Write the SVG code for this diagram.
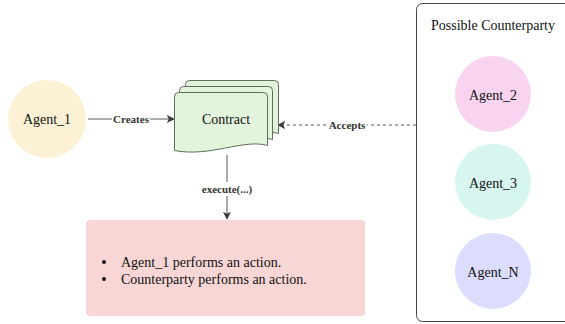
<svg xmlns="http://www.w3.org/2000/svg" width="565" height="324" viewBox="0 0 565 324" font-family="'Liberation Serif', 'Times New Roman', serif">
  <defs>
    <marker id="arrow" viewBox="0 0 10 10" refX="9" refY="5" markerWidth="8" markerHeight="8" markerUnits="userSpaceOnUse" orient="auto">
      <path d="M0,0 L10,5 L0,10 L2.5,5 Z" fill="#3a3a3a"/>
    </marker>
    <path id="doc" d="M0,4 Q0,0 4,0 H89 Q93,0 93,4 V53 C70,46 35,65 0,58 Z"/>
  </defs>
  <style>
    .node-label { font-family: 'Liberation Serif', serif; font-size: 14px; text-anchor: middle; dominant-baseline: central; fill: #111; }
    .edge-label { font-family: 'Liberation Serif', serif; font-size: 11px; font-weight: bold; text-anchor: middle; dominant-baseline: central; fill: #333; }
    .edge { stroke: #5a5a5a; stroke-width: 1; fill: none; }
    .doc { fill: #e2f5dc; stroke: #5d6e5a; stroke-width: 1; }
  </style>

  <!-- Counterparty container -->
  <g id="counterparty-group">
    <rect x="416.5" y="3.5" width="160" height="318" rx="6" fill="#ffffff" stroke="#444" stroke-width="1"/>
    <text x="493" y="25" class="node-label" font-size="13">Possible Counterparty</text>
  </g>

  <!-- Connectors -->
  <g id="connectors">
    <line class="edge" x1="88" y1="119" x2="174" y2="119" marker-end="url(#arrow)"/>
    <rect x="112" y="113" width="38" height="12" fill="#fff"/>
    <text x="131" y="119" class="edge-label">Creates</text>

    <line class="edge" x1="416" y1="125" x2="278" y2="125" stroke-dasharray="3,3" marker-end="url(#arrow)"/>
    <rect x="327" y="119" width="40" height="12" fill="#fff"/>
    <text x="347" y="125" class="edge-label">Accepts</text>

    <line class="edge" x1="227" y1="155" x2="227" y2="219" marker-end="url(#arrow)"/>
    <rect x="199" y="182" width="56" height="14" fill="#fff"/>
    <text x="227" y="189" class="edge-label">execute(...)</text>
  </g>

  <g id="agent-1">
    <circle cx="47" cy="119" r="39" fill="#fcf1d5"/>
    <text x="47" y="119" class="node-label">Agent_1</text>
  </g>

  <g id="contract">
    <use href="#doc" class="doc" transform="translate(185.5,80.5)"/>
    <use href="#doc" class="doc" transform="translate(179.5,86.5)"/>
    <use href="#doc" class="doc" transform="translate(174.5,92.5)"/>
    <text x="226" y="119" class="node-label">Contract</text>
  </g>

  <g id="actions">
    <rect x="86" y="220" width="279" height="96" rx="4" fill="#f8d6d6"/>
    <circle cx="104" cy="262" r="2" fill="#111"/>
    <circle cx="104" cy="279" r="2" fill="#111"/>
    <text x="121" y="262" class="node-label" style="text-anchor:start">Agent_1 performs an action.</text>
    <text x="121" y="279" class="node-label" style="text-anchor:start">Counterparty performs an action.</text>
  </g>

  <g id="agent-2">
    <circle cx="493" cy="94" r="38" fill="#f8d4f1"/>
    <text x="493" y="95" class="node-label">Agent_2</text>
  </g>
  <g id="agent-3">
    <circle cx="493" cy="182" r="38" fill="#d7f6ef"/>
    <text x="493" y="183" class="node-label">Agent_3</text>
  </g>
  <g id="agent-n">
    <circle cx="493" cy="271" r="38" fill="#dcdcfd"/>
    <text x="493" y="272" class="node-label">Agent_N</text>
  </g>
</svg>
